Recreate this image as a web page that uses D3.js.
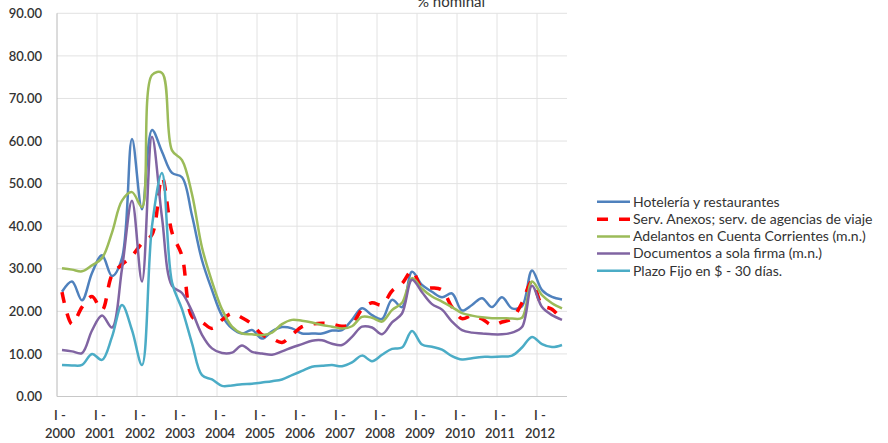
<!DOCTYPE html>
<html>
<head>
<meta charset="utf-8">
<script src="https://cdn.jsdelivr.net/npm/d3@7/dist/d3.min.js"></script>
<style>
  body { margin: 0; background: #ffffff; }
  svg { display: block; }
  text { font-family: Lato, "Open Sans", "DejaVu Sans", sans-serif; fill: #333333; }
</style>
</head>
<body>
<svg id="chart" width="888" height="443"></svg>
<script>
// Quarterly categories, I - 2000 through III - 2012
const years = [2000, 2001, 2002, 2003, 2004, 2005, 2006, 2007, 2008, 2009, 2010, 2011, 2012];
const quarterNames = ["I", "II", "III", "IV"];
const categories = years.flatMap(y => quarterNames.map(q => q + " - " + y)).slice(0, 51);

// Axis tick labels
const yTicks = [0, 10, 20, 30, 40, 50, 60, 70, 80, 90];
const xTickLabels = years.map(y => "I - " + y);

// Series (% nominal)
const hoteleria = [
  24.6, 27.0, 22.6, 29.0, 33.2, 28.3, 32.5, 60.5, 44.0, 62.6,
  57.5, 52.5, 51.5, 42.5, 32.0, 25.0, 19.0, 16.0, 14.8, 15.6,
  13.6, 15.3, 16.3, 16.0, 14.8, 14.8, 14.8, 15.5, 15.6, 18.0,
  20.7, 19.1, 18.2, 22.7, 21.0, 29.3, 26.2, 24.6, 23.3, 24.2,
  20.2, 21.5, 23.1, 21.0, 23.3, 20.7, 21.2, 29.6, 25.0, 23.4,
  22.8
];
const servAnexos = [
  24.5, 17.0, 21.0, 23.5, 20.3, 28.5, 31.0, 33.0, 36.0, 38.0,
  51.5, 38.5, 33.0, 18.8, 17.5, 16.0, 18.0, 19.5, 18.5, 17.0,
  14.5, 13.6, 12.7, 14.5, 16.4, 17.0, 17.2, 17.0, 16.5, 17.0,
  20.5, 22.0, 21.5, 24.8, 26.5, 29.5, 25.5, 25.5, 25.0, 21.0,
  18.3, 19.0, 18.2, 16.8, 17.5, 18.3, 22.0, 27.0, 21.5, 20.5,
  18.0
];
const adelantos = [
  30.1, 29.8, 29.4, 30.8, 32.5, 38.5, 46.0, 48.0, 44.5, 75.5,
  76.0, 57.8, 55.5, 47.5, 35.0, 27.0, 20.5, 16.4, 14.8, 14.6,
  14.4, 15.0, 17.0, 18.0, 17.8, 17.4, 16.8, 16.4, 16.0, 16.5,
  18.7, 18.5, 17.6, 20.3, 22.0, 27.8, 25.3, 23.5, 22.3, 21.0,
  19.6, 19.0, 18.6, 18.4, 18.4, 18.3, 18.5, 27.0, 23.8, 21.9,
  20.7
];
const documentos = [
  10.9, 10.6, 10.2, 15.5, 19.0, 16.2, 30.0, 46.0, 27.0, 61.0,
  42.0, 26.0, 24.3, 20.0, 14.5, 11.3, 10.2, 10.3, 12.0, 10.5,
  10.1, 9.8, 10.6, 11.5, 12.3, 13.1, 13.2, 12.4, 12.1, 14.0,
  16.4, 16.2, 14.6, 17.4, 19.5, 27.4, 24.5, 21.7, 20.4, 17.6,
  15.6, 15.0, 14.8, 14.6, 14.6, 15.0, 16.3, 26.0, 21.0, 19.1,
  18.0
];
const plazoFijo = [
  7.4, 7.3, 7.4, 10.0, 8.6, 14.0, 21.5, 15.6, 7.4, 40.0,
  52.5, 26.8, 20.5, 12.5, 5.0, 4.0, 2.5, 2.6, 2.9, 3.0,
  3.3, 3.6, 4.0, 5.0, 6.0, 7.0, 7.2, 7.4, 7.1, 8.0,
  9.6, 8.3, 9.8, 11.2, 11.5, 15.4, 12.2, 11.7, 11.0, 9.5,
  8.7, 9.0, 9.3, 9.3, 9.4, 9.6, 11.5, 14.0, 12.3, 11.6,
  12.1
];

const seriesNames = [
  "Hotelería y restaurantes",
  "Serv. Anexos; serv. de agencias de viaje",
  "Adelantos en Cuenta Corrientes (m.n.)",
  "Documentos a sola firma (m.n.)",
  "Plazo Fijo en $ - 30 días."
];
const seriesValues = [hoteleria, servAnexos, adelantos, documentos, plazoFijo];
const seriesColors = ["#4F81BD", "#FF0000", "#9BBB59", "#8064A2", "#4BACC6"];
const seriesDash = [null, "11,11", null, null, null];
const seriesWidth = [2.5, 3.5, 2.5, 2.5, 2.5];

const svg = d3.select("#chart");

const plot = { left: 57, right: 567, top: 13.3, bottom: 396.5 };

const x = d3.scalePoint()
  .domain(categories)
  .range([plot.left, plot.right])
  .padding(0.5);
const step = x.step();

const y = d3.scaleLinear()
  .domain([0, 90])
  .range([plot.bottom, plot.top]);

// Horizontal gridlines
svg.append("g")
  .selectAll("line")
  .data(yTicks.slice(1))
  .join("line")
  .attr("x1", plot.left).attr("x2", plot.right)
  .attr("y1", d => y(d)).attr("y2", d => y(d))
  .attr("stroke", "#e2e2e2").attr("stroke-width", 1);

// Vertical gridlines at the start of each year
const yearStarts = categories.filter((c, i) => i % 4 === 0);
svg.append("g")
  .selectAll("line")
  .data(yearStarts.slice(1))
  .join("line")
  .attr("x1", d => x(d) - step / 2).attr("x2", d => x(d) - step / 2)
  .attr("y1", plot.top).attr("y2", plot.bottom)
  .attr("stroke", "#e2e2e2").attr("stroke-width", 1);

// Axis lines
svg.append("line")
  .attr("x1", plot.left).attr("x2", plot.left)
  .attr("y1", plot.top).attr("y2", plot.bottom)
  .attr("stroke", "#b8b8b8").attr("stroke-width", 1);
svg.append("line")
  .attr("x1", plot.left).attr("x2", plot.right)
  .attr("y1", plot.bottom).attr("y2", plot.bottom)
  .attr("stroke", "#c8c8c8").attr("stroke-width", 1);

// Y axis labels
const yAxis = d3.axisLeft(y).tickValues(yTicks).tickFormat(d3.format(".2f")).tickSize(0).tickPadding(15);
const gy = svg.append("g").attr("transform", `translate(${plot.left},0)`).call(yAxis);
gy.select(".domain").remove();
gy.selectAll("text")
  .attr("font-size", 13)
  .attr("font-family", "Lato, 'Open Sans', sans-serif")
  .attr("fill", "#333333")
  .attr("font-weight", 600);

// X axis labels, two lines each
const gx = svg.append("g");
yearStarts.forEach((cat, k) => {
  const parts = xTickLabels[k].split(" - ");
  const t = gx.append("text")
    .attr("x", x(cat) - 2)
    .attr("y", 420)
    .attr("text-anchor", "middle")
    .attr("font-size", 13)
    .attr("font-weight", 600);
  t.append("tspan").attr("x", x(cat) - 2).attr("y", 420).text(parts[0] + " -");
  t.append("tspan").attr("x", x(cat) - 2).attr("y", 438).text(parts[1]);
});

// Series lines
const line = d3.line()
  .x((d, i) => x(categories[i]))
  .y(d => y(d))
  .curve(d3.curveCatmullRom.alpha(0.5));

seriesValues.forEach((vals, s) => {
  svg.append("path")
    .datum(vals)
    .attr("d", line)
    .attr("fill", "none")
    .attr("stroke", seriesColors[s])
    .attr("stroke-width", seriesWidth[s])
    .attr("stroke-linejoin", "round")
    .attr("stroke-dasharray", seriesDash[s]);
});

// Title
svg.append("text")
  .attr("x", 451).attr("y", 7)
  .attr("text-anchor", "middle")
  .attr("font-size", 15)
  .text("% nominal");

// Legend
const legend = svg.append("g");
const legendY = [201.7, 219.3, 236.5, 253.5, 270.7];
seriesNames.forEach((name, s) => {
  legend.append("line")
    .attr("x1", 597).attr("x2", 630)
    .attr("y1", legendY[s]).attr("y2", legendY[s])
    .attr("stroke", seriesColors[s])
    .attr("stroke-width", seriesWidth[s])
    .attr("stroke-dasharray", seriesDash[s]);
  legend.append("text")
    .attr("x", 633).attr("y", legendY[s] + 4.8)
    .attr("font-size", 14)
    .text(name);
});
</script>
</body>
</html>
